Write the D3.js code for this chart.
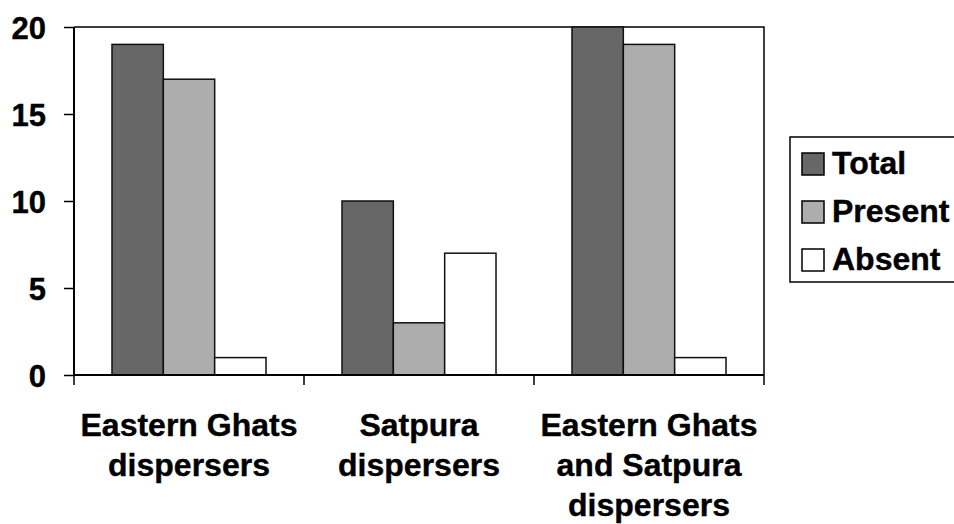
<!DOCTYPE html>
<html>
<head>
<meta charset="utf-8">
<script src="https://cdn.jsdelivr.net/npm/d3@7"></script>
<style>
  html, body { margin: 0; padding: 0; background: #fff; }
  svg { display: block; }
  text { font-family: "Liberation Sans", Arial, sans-serif; font-weight: bold; fill: #000; stroke: #000; stroke-width: 0.4px; }
</style>
</head>
<body>
<svg id="chart" width="954" height="524"></svg>
<script>
const categories = [
  ["Eastern Ghats", "dispersers"],
  ["Satpura", "dispersers"],
  ["Eastern Ghats", "and Satpura", "dispersers"]
];
const seriesNames = ["Total", "Present", "Absent"];
const seriesColors = ["#676767", "#adadad", "#ffffff"];
const totalValues = [19, 10, 20];
const presentValues = [17, 3, 19];
const absentValues = [1, 7, 1];
const yTicks = [0, 5, 10, 15, 20];

(function () {
const seriesValues = [totalValues, presentValues, absentValues];
const catKeys = categories.map((c, i) => "c" + i);

const svg = d3.select("#chart");
const pLeft = 74, pRight = 764, pTop = 27, pBottom = 375;

const x0 = d3.scaleBand().domain(catKeys).range([pLeft, pRight]).padding(0);
const x1 = d3.scaleBand().domain(seriesNames).range([0, x0.bandwidth()])
  .paddingInner(0).paddingOuter(0.74);
const y = d3.scaleLinear().domain([0, 20]).range([pBottom, pTop]);

// frame (top and right)
svg.append("path")
  .attr("d", `M${pLeft},${pTop}H${pRight}V${pBottom}`)
  .attr("fill", "none").attr("stroke", "#000").attr("stroke-width", 1.5);

// bars
const groups = svg.append("g").selectAll("g")
  .data(catKeys).join("g")
  .attr("transform", d => `translate(${x0(d)},0)`);

groups.selectAll("rect")
  .data((d, i) => seriesNames.map((s, j) => ({ s, j, v: seriesValues[j][i] })))
  .join("rect")
  .attr("x", d => x1(d.s))
  .attr("width", x1.bandwidth())
  .attr("y", d => y(d.v))
  .attr("height", d => y(0) - y(d.v))
  .attr("fill", d => seriesColors[d.j])
  .attr("stroke", "#111")
  .attr("stroke-width", 1.5);

// y axis
const yAxis = d3.axisLeft(y).tickValues(yTicks).tickSize(10).tickPadding(18);
const gy = svg.append("g").attr("transform", `translate(${pLeft},0)`).call(yAxis);
gy.select(".domain").attr("stroke-width", 2).attr("d", `M0,${pTop}V${pBottom}`);
gy.selectAll(".tick line").attr("stroke-width", 1.5);
gy.selectAll(".tick text")
  .style("font-size", "31px").style("font-family", '"Liberation Sans", Arial, sans-serif')
  .style("font-weight", "bold").attr("fill", "#000").attr("dy", "0.36em");

// x axis line + ticks
const xTickPos = catKeys.map(k => x0(k)).concat([pRight]);
svg.append("line").attr("x1", pLeft).attr("x2", pRight).attr("y1", pBottom).attr("y2", pBottom)
  .attr("stroke", "#000").attr("stroke-width", 2);
svg.append("g").selectAll("line").data(xTickPos).join("line")
  .attr("x1", d => d).attr("x2", d => d).attr("y1", pBottom).attr("y2", pBottom + 10)
  .attr("stroke", "#000").attr("stroke-width", 1.5);

// category labels
const catLabels = svg.append("g").selectAll("text")
  .data(categories).join("text")
  .attr("text-anchor", "middle")
  .attr("x", (d, i) => x0(catKeys[i]) + x0.bandwidth() / 2)
  .attr("y", 436)
  .style("font-size", "32px");
catLabels.selectAll("tspan").data(d => d).join("tspan")
  .attr("x", function () { return d3.select(this.parentNode).attr("x"); })
  .attr("dy", (d, i) => i === 0 ? 0 : 40)
  .text(d => d);

// legend
const lg = svg.append("g");
lg.append("rect").attr("x", 790).attr("y", 137).attr("width", 180).attr("height", 145)
  .attr("fill", "#fff").attr("stroke", "#000").attr("stroke-width", 1.5);
const items = lg.selectAll("g.item").data(seriesNames).join("g")
  .attr("class", "item")
  .attr("transform", (d, i) => `translate(802,${153 + i * 48})`);
items.append("rect").attr("width", 22).attr("height", 22)
  .attr("fill", (d, i) => seriesColors[i]).attr("stroke", "#000").attr("stroke-width", 1.5);
items.append("text").attr("x", 30).attr("y", 21).style("font-size", "32px").text(d => d);
})();
</script>
</body>
</html>
